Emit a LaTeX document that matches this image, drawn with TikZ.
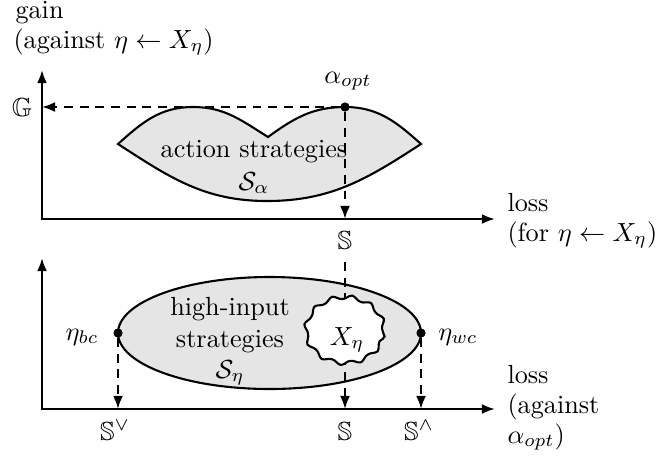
\documentclass[tikz,border=0pt]{standalone}
\usepackage{amsmath,amssymb}
\usetikzlibrary{arrows.meta,decorations.pathmorphing}
\begin{document}
\begin{tikzpicture}[x=0.3817pt,y=0.3817pt,
  axis/.style={line width=0.9pt,{Latex[length=5pt,width=3.8pt]}-{Latex[length=5pt,width=3.8pt]}},
  darr/.style={line width=0.8pt,dash pattern=on 3.4pt off 2.6pt,-{Latex[length=5pt,width=3.8pt]}},
  region/.style={draw,line width=0.8pt,fill=gray!20},
  pt/.style={circle,fill=black,inner sep=0pt,minimum size=3.4pt},
  lbl/.style={inner sep=0pt,anchor=base},
  lblw/.style={inner sep=0pt,anchor=base west}]
\useasboundingbox (0,0) rectangle (658,459);
% ---------- top panel ----------
\coordinate (O1) at (42,240);
\coordinate (Y1) at (42,389);
\coordinate (X1) at (495,240);
\coordinate (Gp) at (42,352);
\coordinate (F1) at (345,240);
\path[region] (118,315) to[out=42,in=180] (193,352) to[out=0,in=148] (268,322)
  to[out=36,in=180] (345,352) to[out=0,in=138] (421,315)
  to[out=-147,in=0] (267,258) to[out=180,in=-33] (118,315) -- cycle;
\draw[axis] (Y1) -- (O1) -- (X1);
\node[pt] (aopt) at (345,352) {};
\draw[darr] (aopt) -- (Gp);
\draw[darr] (aopt) -- (F1);
\node[pt] at (aopt) {};
\node[lblw] (gain) at (15,441) {gain};
\node[lblw] (gain2) at (13,411) {(against $\eta \leftarrow X_\eta$)};
\node (G) at (22,352) {$\mathbb{G}$};
\node[lbl] (aoptl) at (348,376) {$\alpha_{opt}$};
\node[lbl] (act) at (254,302) {action strategies};
\node[lbl] (Sa) at (254,269) {$\mathcal{S}_\alpha$};
\node[lblw] (loss1) at (507,248) {loss};
\node[lblw] (loss1b) at (507,218) {(for $\eta \leftarrow X_\eta$)};
\node[lbl] (Stop) at (345,210) {$\mathbb{S}$};
% ---------- bottom panel ----------
\coordinate (O2) at (42,50);
\coordinate (Y2) at (42,201);
\coordinate (X2) at (495,50);
\coordinate (Fbc) at (118,50);
\coordinate (Fs) at (345,50);
\coordinate (Fwc) at (421,50);
\path[region] (269.5,126) ellipse [x radius=151.5, y radius=56];
\draw[axis] (Y2) -- (O2) -- (X2);
\draw[darr] (345,197) -- (Fs);
\draw[line width=0.8pt,fill=white,decorate,decoration={snake,segment length=7.4pt,amplitude=0.75pt}]
  (345,124) ellipse [x radius=39, y radius=33];
\node[lbl] (Xe) at (347,114) {$X_\eta$};
\node[pt] (bc) at (118,126) {};
\node[pt] (wc) at (421,126) {};
\draw[darr] (bc) -- (Fbc);
\draw[darr] (wc) -- (Fwc);
\node[pt] at (bc) {};
\node[pt] at (wc) {};
\node[lbl] (bcl) at (82,119) {$\eta_{bc}$};
\node[lbl] (wcl) at (458,119) {$\eta_{wc}$};
\node[lbl] (hi1) at (230,144) {high-input};
\node[lbl] (hi2) at (230,112) {strategies};
\node[lbl] (Se) at (230,81) {$\mathcal{S}_\eta$};
\node[lbl] (Sv) at (115,19) {$\mathbb{S}^\vee$};
\node[lbl] (Sb) at (345,19) {$\mathbb{S}$};
\node[lbl] (Sw) at (419,19) {$\mathbb{S}^\wedge$};
\node[lblw] (loss2) at (507,76) {loss};
\node[lblw] (loss2b) at (507,46) {(against};
\node[lblw] (loss2c) at (507,16) {$\alpha_{opt}$)};
\end{tikzpicture}
\end{document}
